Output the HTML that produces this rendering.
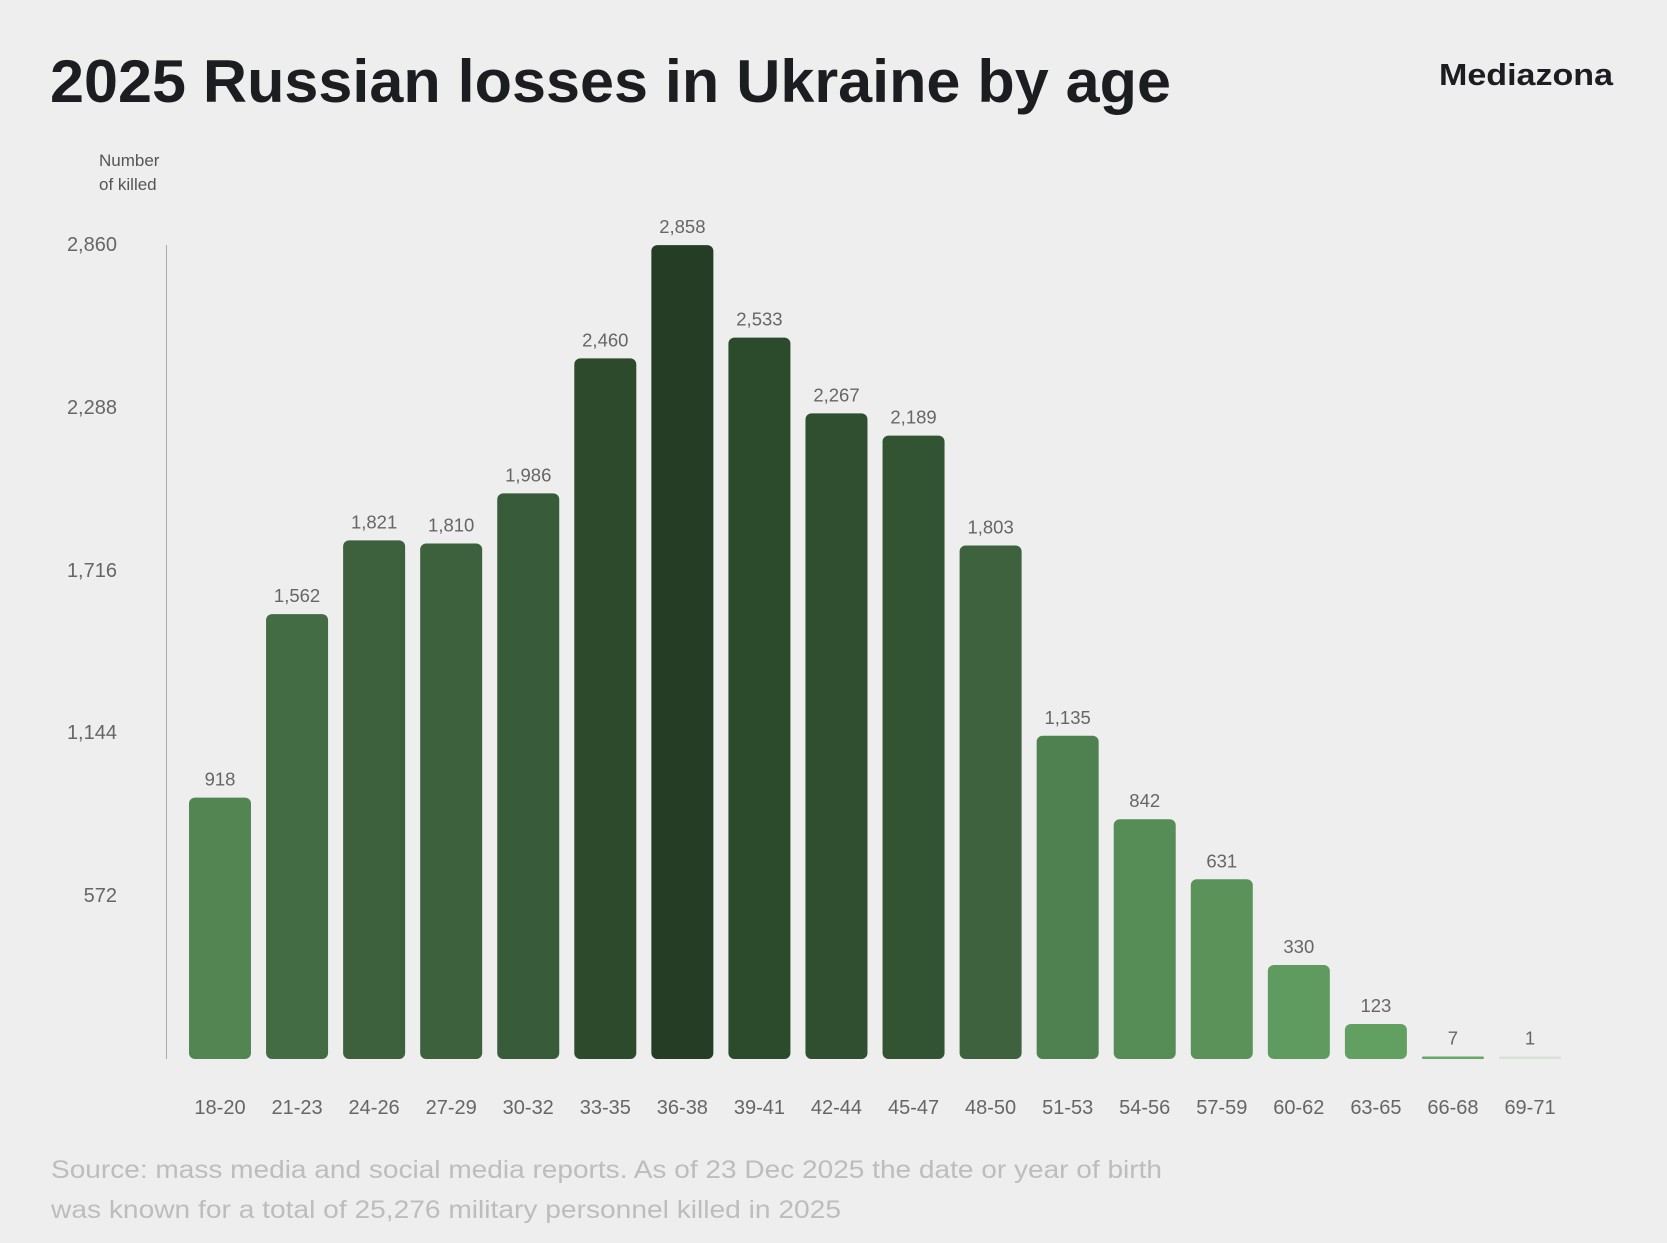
<!DOCTYPE html>
<html><head><meta charset="utf-8"><style>
html,body{margin:0;padding:0;background:#eeeeee;}
svg{display:block;font-family:"Liberation Sans",sans-serif;}
</style></head><body>
<svg width="1667" height="1243" viewBox="0 0 1667 1243" xmlns="http://www.w3.org/2000/svg">
<rect width="1667" height="1243" fill="#eeeeee"/>
<text x="50" y="102" font-size="60" font-weight="bold" fill="#1c1d21" textLength="1121" lengthAdjust="spacingAndGlyphs">2025 Russian losses in Ukraine by age</text>
<text x="1439" y="85" font-size="31" font-weight="bold" fill="#1c1d21" textLength="174" lengthAdjust="spacingAndGlyphs">Mediazona</text>
<g font-size="17" fill="#555">
<text x="99" y="166">Number</text>
<text x="99" y="190">of killed</text>
</g>
<g font-size="20" fill="#666" text-anchor="end">
<text x="117" y="251">2,860</text>
<text x="117" y="414">2,288</text>
<text x="117" y="577">1,716</text>
<text x="117" y="739">1,144</text>
<text x="117" y="902">572</text>
</g>
<line x1="166.5" y1="245" x2="166.5" y2="1059" stroke="#aaa" stroke-width="1"/>
<g id="bars"></g>
<g font-size="18.5" fill="#666" text-anchor="middle" id="vals"></g>
<g font-size="20" fill="#666" text-anchor="middle" id="xl"></g>
<g font-size="25" fill="#bdbdbd">
<text x="51" y="1178" textLength="1111" lengthAdjust="spacingAndGlyphs">Source: mass media and social media reports. As of 23 Dec 2025 the date or year of birth</text>
<text x="51" y="1218" textLength="790" lengthAdjust="spacingAndGlyphs">was known for a total of 25,276 military personnel killed in 2025</text>
</g>
<script>
var d=[["18-20",918,"#538553"],["21-23",1562,"#436c45"],["24-26",1821,"#3c613c"],["27-29",1810,"#3c613c"],["30-32",1986,"#385c3a"],["33-35",2460,"#2d4a2d"],["36-38",2858,"#243d24"],["39-41",2533,"#2c4a2c"],["42-44",2267,"#2f4f30"],["45-47",2189,"#335433"],["48-50",1803,"#3d623d"],["51-53",1135,"#4f804f"],["54-56",842,"#568c56"],["57-59",631,"#5a925a"],["60-62",330,"#5f9b5f"],["63-65",123,"#62a062"],["66-68",7,"#66a866"],["69-71",1,"#d6e2d6"]];
var ns="http://www.w3.org/2000/svg",B=document.getElementById("bars"),V=document.getElementById("vals"),X=document.getElementById("xl");
d.forEach(function(e,i){var cx=220+i*77.06,h=Math.max(e[1]/2860*814.5,2.5),top=1059-h;
var r=document.createElementNS(ns,"rect");r.setAttribute("x",cx-31);r.setAttribute("y",top);r.setAttribute("width",62);r.setAttribute("height",h);var rr=Math.min(6,h/2);r.setAttribute("rx",rr);r.setAttribute("fill",e[2]);B.appendChild(r);
var t=document.createElementNS(ns,"text");t.setAttribute("x",cx);t.setAttribute("y",top-12);t.textContent=e[1].toLocaleString("en-US");V.appendChild(t);
var l=document.createElementNS(ns,"text");l.setAttribute("x",cx);l.setAttribute("y",1114);l.textContent=e[0];X.appendChild(l);});
</script>
</svg>
</body></html>
